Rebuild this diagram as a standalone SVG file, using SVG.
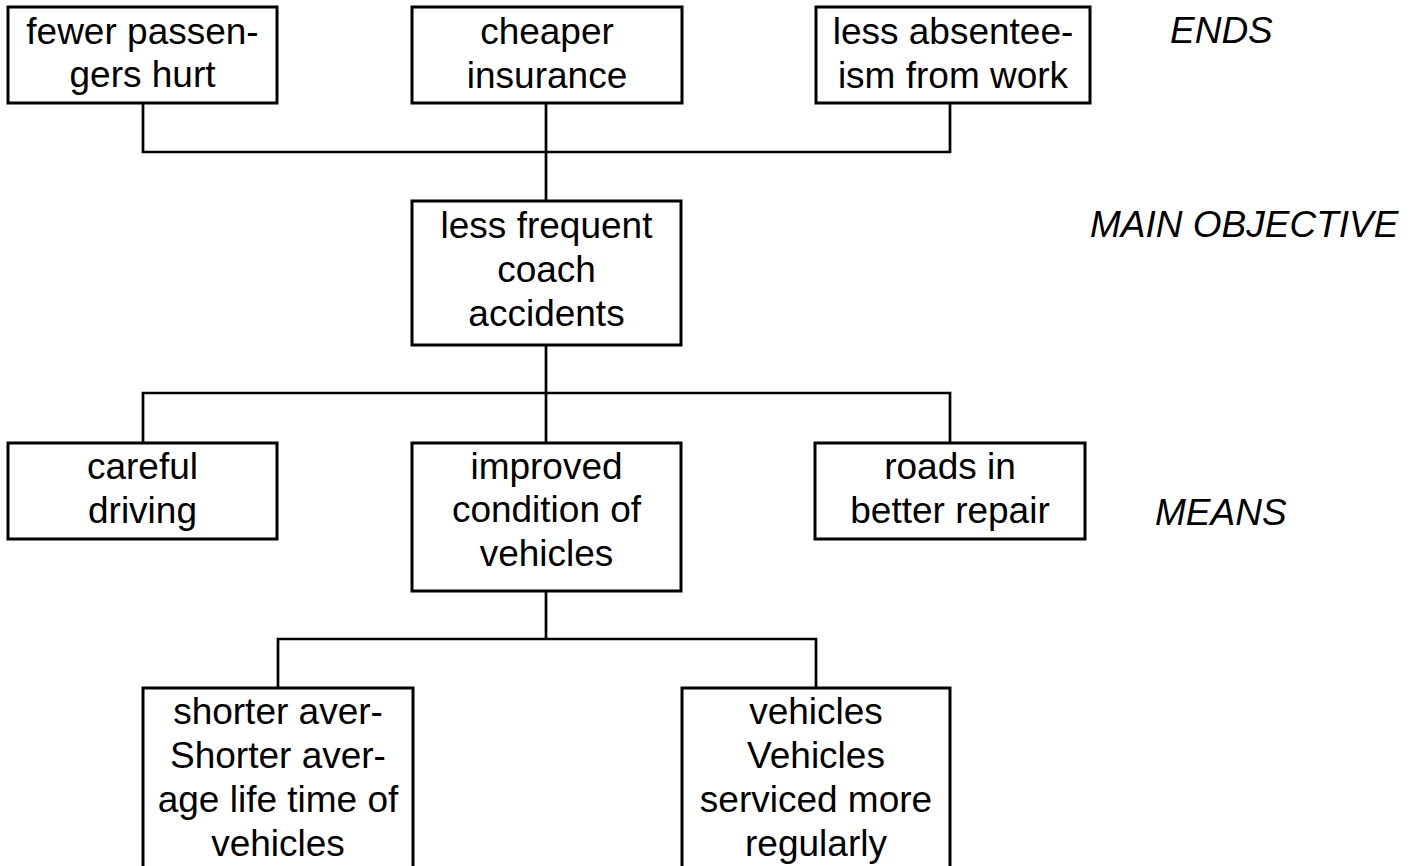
<svg xmlns="http://www.w3.org/2000/svg" width="1421" height="866" viewBox="0 0 1421 866">
<style>
.box{fill:#fff;stroke:#000;stroke-width:3}
.t{font-family:"Liberation Sans",Arial,sans-serif;font-size:37px;fill:#000;text-anchor:middle}
.lab{font-family:"Liberation Sans",Arial,sans-serif;font-size:37px;font-style:italic;fill:#000}
.c{fill:none;stroke:#000;stroke-width:2.7}
</style>
<rect width="1421" height="866" fill="#fff"/>
<g id="connectors">
<path class="c" d="M143,103V152H950V103M546,103V201"/>
<path class="c" d="M546,345V443M143,443V393H950V443"/>
<path class="c" d="M546,591V639M278,688V639H816V688"/>
</g>
<g id="n1"><rect class="box" x="8" y="7" width="269" height="96"/><text class="t" x="142.5" y="44">fewer passen-</text><text class="t" x="142.5" y="87">gers hurt</text></g>
<g id="n2"><rect class="box" x="412" y="7" width="270" height="96"/><text class="t" x="547" y="44">cheaper</text><text class="t" x="547" y="88">insurance</text></g>
<g id="n3"><rect class="box" x="816" y="7" width="274" height="96"/><text class="t" x="953" y="44">less absentee-</text><text class="t" x="953" y="88">ism from work</text></g>
<g id="n4"><rect class="box" x="412" y="201" width="269" height="144"/><text class="t" x="546.5" y="238">less frequent</text><text class="t" x="546.5" y="282">coach</text><text class="t" x="546.5" y="326">accidents</text></g>
<g id="n5"><rect class="box" x="8" y="443" width="269" height="96"/><text class="t" x="142.5" y="479">careful</text><text class="t" x="142.5" y="523">driving</text></g>
<g id="n6"><rect class="box" x="412" y="443" width="269" height="148"/><text class="t" x="546.5" y="479">improved</text><text class="t" x="546.5" y="522">condition of</text><text class="t" x="546.5" y="566">vehicles</text></g>
<g id="n7"><rect class="box" x="815" y="443" width="270" height="96"/><text class="t" x="950" y="479">roads in</text><text class="t" x="950" y="523">better repair</text></g>
<g id="n8"><rect class="box" x="143" y="688" width="270" height="200"/><text class="t" x="278" y="724">shorter aver-</text><text class="t" x="278" y="768">Shorter aver-</text><text class="t" x="278" y="812">age life time of</text><text class="t" x="278" y="856">vehicles</text></g>
<g id="n9"><rect class="box" x="682" y="688" width="268" height="200"/><text class="t" x="816" y="724">vehicles</text><text class="t" x="816" y="768">Vehicles</text><text class="t" x="816" y="812">serviced more</text><text class="t" x="816" y="856">regularly</text></g>
<g id="labels">
<text class="lab" x="1170" y="43">ENDS</text>
<text class="lab" x="1090" y="237">MAIN OBJECTIVE</text>
<text class="lab" x="1155" y="525">MEANS</text>
</g>
</svg>
